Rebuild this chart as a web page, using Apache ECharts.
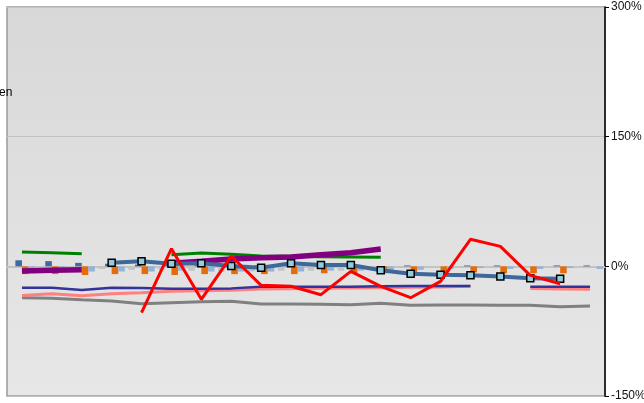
<!DOCTYPE html>
<html>
<head>
<meta charset="utf-8">
<script src="https://cdn.jsdelivr.net/npm/echarts@6/dist/echarts.min.js"></script>
<style>
html,body{margin:0;padding:0;background:#fff;}
#c{width:644px;height:403px;}
</style>
</head>
<body>
<div id="c"></div>
<script>
var categories = ['1','2','3','4','5','6','7','8','9','10','11','12','13','14','15','16','17','18','19','20'];
var yTicks = [-150, 0, 150, 300];

var barGray      = [-2, -3, -3, -3, -4, -4, -5, -6, -6, -5, -5, -5, -3, -1, -1, -1, 0, 0, 0, 0];
var barDarkBlue  = [7, 6, 4, 3, 2, 2, 2, 1, 1, 2, 1, 1, 0, 1, 0, 1, 1, 0, 1, 1];
var barOrange    = [-9, -9, -10, -9, -9, -10, -9, -9, -9, -9, -8, -8, -8, -7, -8, -7, -8, -8, -8, null];
var barLightBlue = [-4, -4, -6, -6, -6, -5, -6, -6, -6, -6, -5, -5, -4, -4, -3, -2, -3, -3, -2, -3];

var lineGreen  = [16.6, 15.8, 14.7, null, null, 13.5, 15.4, 13.9, 11.9, 11.6, 11.2, 10.8, 10.4, null, null, null, null, null, null, null];
var linePurple = [-5.4, -4.6, -3.9, null, null, 3.5, 5.8, 8.5, 10, 10.8, 13.5, 15.8, 20, null, null, null, null, null, null, null];
var lineSteel  = [null, null, null, 4.2, 5.8, 3.1, 3.5, 0.4, -1.5, 3.5, 1.5, 1.5, -4.6, -8.5, -9.6, -10.4, -11.9, -13.9, -14.3, null];
var lineRed    = [null, null, null, null, -53.6, 20.4, -38.2, 11.9, -22, -23.1, -32.8, -5.8, -23.1, -36.3, -17.4, 31.3, 23.1, -10.4, -20.1, null];
var lineNavy   = [-24.7, -24.7, -27.4, -24.7, -25.1, -25.9, -25.9, -25.5, -23.5, -23.5, -23.5, -23.5, -23.1, -22.8, -22.8, -22.8, null, -23.5, -23.5, -23.5];
var linePink   = [-33.6, -31.6, -34, -31.6, -30.5, -28.9, -28.3, -27.8, -26.2, -25.9, -25.3, -25.1, -24.7, -24.3, -24, -23.1, null, -25.5, -26.2, -26.6];
var lineGray   = [-36.3, -37, -38.6, -40.1, -43.2, -42, -40.9, -40.5, -43.6, -43.6, -44, -44.4, -42.8, -45.1, -44.8, -44.8, -45.1, -45.1, -46.7, -45.9];

var chart = echarts.init(document.getElementById('c'));

function bar(name, data, color) {
  return { name: name, type: 'bar', data: data, barGap: '0%', barCategoryGap: '12%',
           itemStyle: { color: color }, silent: true, z: 2 };
}
function line(name, data, color, width, z) {
  return { name: name, type: 'line', data: data, showSymbol: false, symbol: 'none',
           lineStyle: { color: color, width: width }, itemStyle: { color: color },
           connectNulls: false, z: z || 3, animation: false };
}

chart.setOption({
  animation: false,
  backgroundColor: '#ffffff',
  textStyle: { fontFamily: 'Liberation Sans, Arial, sans-serif' },
  grid: {
    left: 7, right: 39, top: 7, bottom: 7,
    outerBoundsMode: 'none',
    containLabel: false,
    show: true,
    borderColor: '#9a9a9a', borderWidth: 1.5,
    backgroundColor: new echarts.graphic.LinearGradient(0, 0, 0, 1, [
      { offset: 0, color: '#d8d8d8' },
      { offset: 1, color: '#e7e7e7' }
    ])
  },
  graphic: [{
    type: 'text', left: -1, top: 87,
    style: { text: 'en', fontSize: 12, fill: '#000', fontFamily: 'Liberation Sans, Arial, sans-serif' }
  }],
  xAxis: {
    type: 'category', data: categories, boundaryGap: true,
    axisLine: { onZero: true, lineStyle: { color: '#c4c4c4', width: 2 } },
    axisTick: { show: false }, axisLabel: { show: false }, splitLine: { show: false }
  },
  yAxis: {
    type: 'value', position: 'right', min: yTicks[0], max: yTicks[yTicks.length - 1], interval: 150,
    axisLine: { show: true, onZero: false, lineStyle: { color: '#000', width: 1.5 } },
    axisTick: { show: true, length: 4, lineStyle: { color: '#000' } },
    axisLabel: { formatter: '{value}%', color: '#111', fontSize: 12, margin: 6 },
    splitLine: { show: true, lineStyle: { color: '#c2c2c2', width: 1 } }
  },
  series: [
    bar('Gray bars', barGray, '#c3c3c3'),
    bar('Dark blue bars', barDarkBlue, '#3e6aa0'),
    bar('Orange bars', barOrange, '#e46c0a'),
    bar('Light blue bars', barLightBlue, '#95b3d7'),
    line('Gray', lineGray, '#808080', 3),
    line('Pink', linePink, '#ff8080', 3),
    line('Navy', lineNavy, '#333399', 2.5),
    line('Green', lineGreen, '#008000', 3),
    line('Purple', linePurple, '#800080', 5.5),
    {
      name: 'Steel', type: 'line', data: lineSteel, symbol: 'rect', symbolSize: 7, showSymbol: true,
      lineStyle: { color: '#3d6899', width: 4 },
      itemStyle: { color: '#93cddd', borderColor: '#000', borderWidth: 1.5 },
      connectNulls: false, z: 4
    },
    line('Red', lineRed, '#ff0000', 3, 5)
  ]
});
</script>
</body>
</html>
